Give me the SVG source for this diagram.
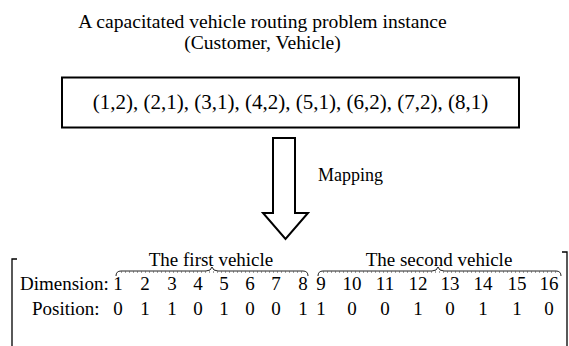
<svg xmlns="http://www.w3.org/2000/svg" width="569" height="346" viewBox="0 0 569 346">
<style>
text{font-family:"Liberation Serif","Times New Roman",serif;fill:#000}
.t{font-size:19.6px;text-anchor:middle}
.m{font-size:21px;text-anchor:middle}
.b{font-size:19px}
.mp{font-size:18px}
.n{font-size:19px;text-anchor:middle}
.ln{fill:none;stroke:#000;stroke-width:2}
.br{fill:none;stroke:#000;stroke-width:1.3}
.bc{fill:none;stroke:#222;stroke-width:1}
.tk{fill:none;stroke:#444;stroke-width:1;stroke-dasharray:1 3}
</style>
<rect width="569" height="346" fill="#fff"/>
<g id="title">
<text class="t" x="262.5" y="28">A capacitated vehicle routing problem instance</text>
<text class="t" x="262.5" y="49">(Customer, Vehicle)</text>
</g>
<g id="instance">
<rect class="ln" x="62" y="77.5" width="457" height="50"/>
<text class="m" x="290.5" y="109">(1,2), (2,1), (3,1), (4,2), (5,1), (6,2), (7,2), (8,1)</text>
</g>
<g id="connectors">
<path class="ln" d="M273,138 H295 V213 H308 L285.5,239 L263,213 H273 Z"/>
<text class="mp" x="318" y="181">Mapping</text>
</g>
<g id="encoding">
<path class="br" d="M17,259 H12 V346"/>
<path class="br" d="M562,252 H567 V346"/>
<text class="n" x="211" y="266">The first vehicle</text>
<text class="n" x="439" y="266">The second vehicle</text>
<path class="bc" d="M116,276 Q116,271 121,271 H206 Q211,271 212,267 Q213,271 218,271 H303 Q308,271 308,276"/>
<path class="tk" d="M121,272 H303"/>
<path class="bc" d="M318,276 Q318,271 323,271 H432 Q437,271 438,267 Q439,271 444,271 H556 Q561,271 561,276"/>
<path class="tk" d="M323,272 H556"/>
<text class="b" x="20" y="290">Dimension:</text>
<text class="b" x="32" y="315">Position:</text>
<g>
<text class="n" x="118" y="290">1</text>
<text class="n" x="145" y="290">2</text>
<text class="n" x="172" y="290">3</text>
<text class="n" x="198" y="290">4</text>
<text class="n" x="224" y="290">5</text>
<text class="n" x="250" y="290">6</text>
<text class="n" x="276" y="290">7</text>
<text class="n" x="303" y="290">8</text>
<text class="n" x="321" y="290">9</text>
<text class="n" x="352" y="290">10</text>
<text class="n" x="385" y="290">11</text>
<text class="n" x="418" y="290">12</text>
<text class="n" x="450" y="290">13</text>
<text class="n" x="483" y="290">14</text>
<text class="n" x="517" y="290">15</text>
<text class="n" x="549" y="290">16</text>
<text class="n" x="118" y="315">0</text>
<text class="n" x="145" y="315">1</text>
<text class="n" x="172" y="315">1</text>
<text class="n" x="198" y="315">0</text>
<text class="n" x="224" y="315">1</text>
<text class="n" x="250" y="315">0</text>
<text class="n" x="276" y="315">0</text>
<text class="n" x="303" y="315">1</text>
<text class="n" x="321" y="315">1</text>
<text class="n" x="352" y="315">0</text>
<text class="n" x="385" y="315">0</text>
<text class="n" x="418" y="315">1</text>
<text class="n" x="450" y="315">0</text>
<text class="n" x="483" y="315">1</text>
<text class="n" x="517" y="315">1</text>
<text class="n" x="549" y="315">0</text>
</g>
</g>
</svg>
